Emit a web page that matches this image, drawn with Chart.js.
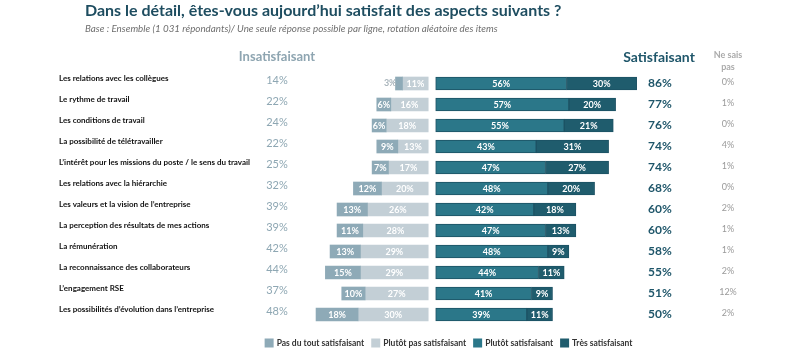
<!DOCTYPE html>
<html>
<head>
<meta charset="utf-8">
<script src="https://cdn.jsdelivr.net/npm/chart.js@4"></script>
<style>
  html, body { margin: 0; padding: 0; background: #fff; }
</style>
</head>
<body>
<canvas id="chart" width="800" height="352"></canvas>
<script>
const items = [
  "Les relations avec les collègues",
  "Le rythme de travail",
  "Les conditions de travail",
  "La possibilité de télétravailler",
  "L’intérêt pour les missions du poste / le sens du travail",
  "Les relations avec la hiérarchie",
  "Les valeurs et la vision de l’entreprise",
  "La perception des résultats de mes actions",
  "La rémunération",
  "La reconnaissance des collaborateurs",
  "L’engagement RSE",
  "Les possibilités d’évolution dans l’entreprise"
];

const pasDuTout = [3, 6, 6, 9, 7, 12, 13, 11, 13, 15, 10, 18];
const plutotPas = [11, 16, 18, 13, 17, 20, 26, 28, 29, 29, 27, 30];
const plutotSat = [56, 57, 55, 43, 47, 48, 42, 47, 48, 44, 41, 39];
const tresSat = [30, 20, 21, 31, 27, 20, 18, 13, 9, 11, 9, 11];

const totalInsat = [14, 22, 24, 22, 25, 32, 39, 39, 42, 44, 37, 48];
const totalSat = [86, 77, 76, 74, 74, 68, 60, 60, 58, 55, 51, 50];
const neSaisPas = [0, 1, 0, 4, 1, 0, 2, 1, 1, 2, 12, 2];

const seriesNames = ["Pas du tout satisfaisant", "Plutôt pas satisfaisant", "Plutôt satisfaisant", "Très satisfaisant"];
const seriesColors = ["#8eaab7", "#c3cfd6", "#2b7789", "#1f5c6d"];

// small space between the two sides, in % units
const GAP = 1.6;

const FONT = "Lato, 'Open Sans', sans-serif";

const leftInner = plutotPas.map((v) => [-(GAP + v), -GAP]);
const leftOuter = pasDuTout.map((v, i) => [-(GAP + plutotPas[i] + v), -(GAP + plutotPas[i])]);
const rightInner = plutotSat.map((v) => [GAP, GAP + v]);
const rightOuter = tresSat.map((v, i) => [GAP + plutotSat[i], GAP + plutotSat[i] + v]);

const textPlugin = {
  id: 'texts',
  afterDatasetsDraw(chart) {
    const ctx = chart.ctx;
    const yScale = chart.scales.y;
    ctx.save();

    // values inside the bars
    chart.data.datasets.forEach((ds, di) => {
      const meta = chart.getDatasetMeta(di);
      meta.data.forEach((bar, i) => {
        const v = ds.values[i];
        const x0 = Math.min(bar.x, bar.base);
        const x1 = Math.max(bar.x, bar.base);
        ctx.font = "bold 9px " + FONT;
        ctx.textBaseline = 'middle';
        if (v < 5) {
          ctx.fillStyle = '#a9b5bc';
          ctx.textAlign = 'right';
          ctx.fillText(v + '%', x0 + 1, bar.y);
        } else {
          ctx.fillStyle = '#ffffff';
          ctx.textAlign = 'center';
          ctx.fillText(v + '%', (x0 + x1) / 2, bar.y + 0.5);
        }
      });
    });

    // side columns
    items.forEach((label, i) => {
      const py = yScale.getPixelForValue(i);
      ctx.textBaseline = 'middle';

      ctx.font = "bold 8px " + FONT;
      ctx.fillStyle = '#111111';
      ctx.textAlign = 'left';
      ctx.fillText(label, 59, py - 5);

      ctx.font = "11px " + FONT;
      ctx.fillStyle = '#8ea7b3';
      ctx.textAlign = 'center';
      ctx.fillText(totalInsat[i] + '%', 277, py - 3);

      ctx.font = "bold 12px " + FONT;
      ctx.fillStyle = '#1f566a';
      ctx.fillText(totalSat[i] + '%', 660, py);

      ctx.font = "9px " + FONT;
      ctx.fillStyle = '#9a9a9a';
      ctx.fillText(neSaisPas[i] + '%', 728, py - 1);
    });

    // headers
    ctx.font = "bold 13px " + FONT;
    ctx.fillStyle = '#8ea5b1';
    ctx.fillText('Insatisfaisant', 277, 57);
    ctx.font = "bold 14px " + FONT;
    ctx.fillStyle = '#1f566a';
    ctx.fillText('Satisfaisant', 659, 57);
    ctx.font = "bold 9px " + FONT;
    ctx.fillStyle = '#aaaaaa';
    ctx.fillText('Ne sais', 728, 55);
    ctx.fillText('pas', 728, 67);

    // title and subtitle
    ctx.textAlign = 'left';
    ctx.font = "bold 16px " + FONT;
    ctx.fillStyle = '#1e4d60';
    ctx.fillText('Dans le détail, êtes-vous aujourd’hui satisfait des aspects suivants ?', 85, 11);
    ctx.font = "italic 9.8px " + FONT;
    ctx.fillStyle = '#6f6f6f';
    ctx.fillText('Base : Ensemble (1 031 répondants)/ Une seule réponse possible par ligne, rotation aléatoire des items', 85, 29);

    // legend
    ctx.font = "bold 8.5px " + FONT;
    const box = 9, gapBox = 3, gapItem = 7;
    const widths = seriesNames.map((n) => box + gapBox + ctx.measureText(n).width);
    const total = widths.reduce((a, b) => a + b, 0) + gapItem * (widths.length - 1);
    let lx = 448.5 - total / 2;
    const ly = 343;
    seriesNames.forEach((n, k) => {
      ctx.fillStyle = seriesColors[k];
      ctx.fillRect(lx, ly - box / 2, box, box);
      ctx.fillStyle = '#333333';
      ctx.fillText(n, lx + box + gapBox, ly);
      lx += widths[k] + gapItem;
    });

    ctx.restore();
  }
};

new Chart(document.getElementById('chart'), {
  type: 'bar',
  data: {
    labels: items,
    datasets: [
      { label: seriesNames[0], data: leftOuter, values: pasDuTout, backgroundColor: seriesColors[0], borderWidth: 0 },
      { label: seriesNames[1], data: leftInner, values: plutotPas, backgroundColor: seriesColors[1], borderWidth: 0 },
      { label: seriesNames[2], data: rightInner, values: plutotSat, backgroundColor: seriesColors[2], borderColor: '#1d5264', borderWidth: 1, borderSkipped: false },
      { label: seriesNames[3], data: rightOuter, values: tresSat, backgroundColor: seriesColors[3], borderColor: '#1d5264', borderWidth: 1, borderSkipped: false }
    ]
  },
  options: {
    indexAxis: 'y',
    responsive: false,
    animation: false,
    devicePixelRatio: 1,
    grouped: false,
    barThickness: 13,
    layout: { padding: { left: 245, right: 111, top: 73, bottom: 27 } },
    scales: {
      x: { min: -80, max: 110, display: false },
      y: { display: false, offset: true }
    },
    plugins: {
      legend: { display: false },
      tooltip: { enabled: false }
    }
  },
  plugins: [textPlugin]
});
</script>
</body>
</html>
